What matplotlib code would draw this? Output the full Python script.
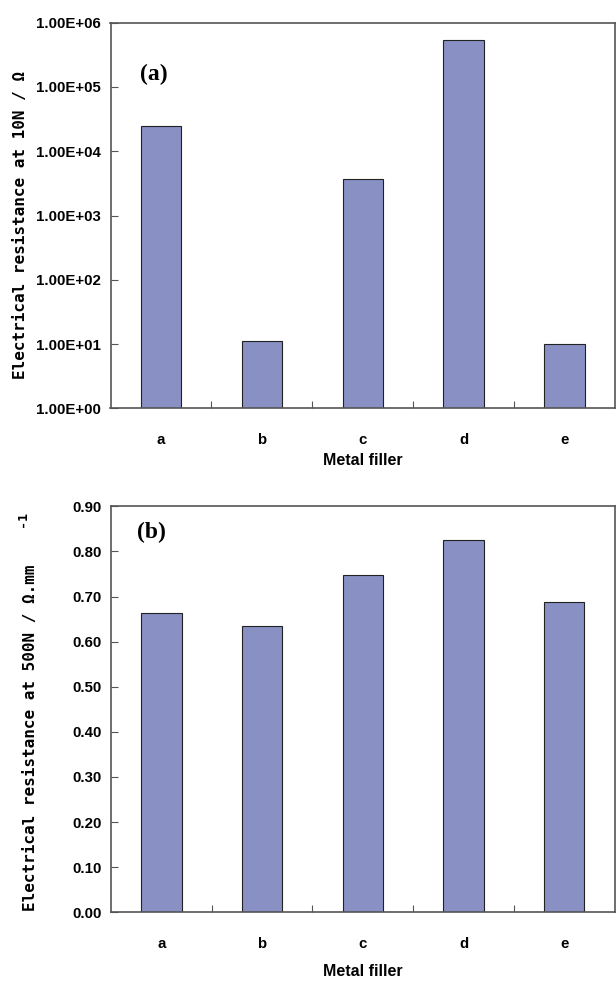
import matplotlib.pyplot as plt
import numpy as np

# data
fillers = ["a", "b", "c", "d", "e"]
res_10n = [2.5e4, 1.1e1, 3.7e3, 5.3e5, 1.0e1]
res_500n = [0.664, 0.634, 0.748, 0.826, 0.687]
log_ticks = [1e0, 1e1, 1e2, 1e3, 1e4, 1e5, 1e6]
lin_ticks = [0.0, 0.1, 0.2, 0.3, 0.4, 0.5, 0.6, 0.7, 0.8, 0.9]

bar_color = "#8890c4"
tick_font = dict(family=["Liberation Sans", "DejaVu Sans"], weight="bold", size=10.8)
xlab_font = dict(family=["Liberation Sans", "DejaVu Sans"], weight="bold", size=11.5)
label_font = dict(family=["DejaVu Sans Mono"], weight="bold", size=11.5)

W, H = 616, 981
fig = plt.figure(figsize=(W / 100, H / 100), dpi=100)

def px_axes(left, top, right, bottom):
    return fig.add_axes([left / W, 1 - bottom / H, (right - left) / W, (bottom - top) / H])

ax1 = px_axes(110.5, 22.7, 615, 408.3)
ax2 = px_axes(111, 506.3, 614.7, 912.3)

x = np.arange(len(fillers))

def style(ax):
    ax.set_xlim(-0.5, len(fillers) - 0.5)
    ax.set_xticks(np.arange(len(fillers) - 1) + 0.5)
    ax.set_xticklabels([])
    ax.set_xticks(x, minor=True)
    ax.set_xticklabels(fillers, minor=True, **tick_font)
    ax.tick_params(axis="x", which="major", direction="in", length=5, width=0.8, color="#555555")
    ax.tick_params(axis="x", which="minor", length=0, pad=18)
    ax.tick_params(axis="y", which="major", direction="in", length=5, width=0.8, color="#555555", pad=7)
    ax.tick_params(axis="y", which="minor", length=0)
    for s in ax.spines.values():
        s.set_color("#555555")
        s.set_linewidth(1.2)
    for t in ax.get_yticklabels():
        t.update(tick_font)

# panel (a)
ax1.bar(x, res_10n, width=0.4, color=bar_color, edgecolor="#222222", linewidth=0.8)
ax1.set_yscale("log")
ax1.set_ylim(1, 1e6)
ax1.set_yticks(log_ticks)
ax1.set_yticklabels([f"{v:.2E}" for v in log_ticks])
ax1.yaxis.set_minor_locator(plt.NullLocator())
style(ax1)
ax1.set_xlabel("Metal filler", labelpad=4, **xlab_font)
ax1.text(0.085, 0.865, "(a)", transform=ax1.transAxes, ha="center", va="center",
         family=["Liberation Serif"], weight="bold", size=17)

# panel (b)
ax2.bar(x, res_500n, width=0.4, color=bar_color, edgecolor="#222222", linewidth=0.8)
ax2.set_ylim(0, 0.9)
ax2.set_yticks(lin_ticks)
ax2.set_yticklabels([f"{v:.2f}" for v in lin_ticks])
style(ax2)
ax2.set_xlabel("Metal filler", labelpad=9, **xlab_font)
ax2.text(0.08, 0.935, "(b)", transform=ax2.transAxes, ha="center", va="center",
         family=["Liberation Serif"], weight="bold", size=17)

# y labels
fig.text(21 / W, 1 - 225 / H, "Electrical resistance at 10N / \u03a9", rotation=90,
         ha="center", va="center", **label_font)
fig.text(31 / W, 1 - 738 / H, "Electrical resistance at 500N / \u03a9.mm", rotation=90,
         ha="center", va="center", **label_font)
fig.text(23 / W, 1 - 519 / H, "-1", rotation=90, ha="center", va="center",
         family=["DejaVu Sans Mono"], weight="bold", size=9.5)

fig.savefig("out.png", dpi=100)
